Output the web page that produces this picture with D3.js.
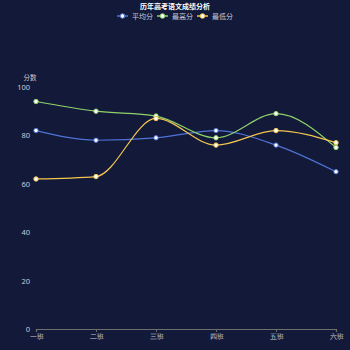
<!DOCTYPE html>
<html><head><meta charset="utf-8">
<script src="https://cdn.jsdelivr.net/npm/d3@7/dist/d3.min.js"></script>
<style>
html,body{margin:0;padding:0;background:#131939;}
svg{display:block;font-family:"Noto Sans CJK SC","Noto Sans",sans-serif;}
</style></head>
<body>
<svg id="chart" width="350" height="350"></svg>
<script>
const classes = ["一班","二班","三班","四班","五班","六班"];
const avgScores = [82, 78, 79, 82, 76, 65];
const highScores = [94, 90, 88, 79, 89, 75];
const lowScores = [62, 63, 87, 76, 82, 77];
const yTicks = [0, 20, 40, 60, 80, 100];
const seriesNames = ["平均分","最高分","最低分"];
const seriesColors = ["#4f73d6","#8fd26b","#f3c64f"];

const svg = d3.select("#chart");
const W = 350, H = 350;
const margin = {left: 36, right: 14, top: 87, bottom: 21};

svg.append("rect").attr("width", W).attr("height", H).attr("fill", "#131939");

const x = d3.scalePoint().domain(classes).range([margin.left, W - margin.right]);
const y = d3.scaleLinear().domain([0, 100]).range([H - margin.bottom, margin.top]);

// title
svg.append("text").attr("x", W / 2).attr("y", 9).attr("text-anchor", "middle")
  .attr("fill", "#ffffff").attr("font-size", 7).attr("font-weight", "bold")
  .text("历年高考语文成绩分析");

// legend
const legendX = [117, 157, 197];
seriesNames.forEach((name, i) => {
  const g = svg.append("g").attr("transform", `translate(${legendX[i]},16)`);
  g.append("line").attr("x1", 0).attr("x2", 11).attr("y1", 0).attr("y2", 0)
    .attr("stroke", seriesColors[i]).attr("stroke-width", 1.5);
  g.append("circle").attr("cx", 5.5).attr("cy", 0).attr("r", 2.3)
    .attr("fill", "#fff").attr("stroke", seriesColors[i]).attr("stroke-width", 1);
  g.append("text").attr("x", 15).attr("y", 2.5).attr("fill", "#c8cbd8")
    .attr("font-size", 7).text(name);
});

// y axis
const yAxis = svg.append("g").attr("transform", `translate(${margin.left},0)`)
  .call(d3.axisLeft(y).tickValues(yTicks).tickSize(0).tickPadding(6));
yAxis.select(".domain").remove();
yAxis.selectAll("text").attr("fill", "#c8cbd8").attr("font-size", 7.5)
  .attr("font-family", "'Noto Sans',sans-serif");

svg.append("text").attr("x", 30).attr("y", 80).attr("text-anchor", "middle")
  .attr("fill", "#c8cbd8").attr("font-size", 6.5).text("分数");

// x axis
const xAxis = svg.append("g").attr("transform", `translate(0,${H - margin.bottom})`)
  .call(d3.axisBottom(x).tickSize(3).tickPadding(2));
xAxis.select(".domain").attr("stroke", "#6e6e6e").attr("stroke-width", 1.2);
xAxis.selectAll("line").attr("stroke", "#6e6e6e");
xAxis.selectAll("text").attr("fill", "#c8cbd8").attr("font-size", 7);

// series
const allSeries = [avgScores, highScores, lowScores];
const line = d3.line().x((d, i) => x(classes[i])).y(d => y(d)).curve(d3.curveMonotoneX);
allSeries.forEach((vals, s) => {
  svg.append("path").datum(vals).attr("d", line).attr("fill", "none")
    .attr("stroke", seriesColors[s]).attr("stroke-width", 1.2);
});
allSeries.forEach((vals, s) => {
  svg.selectAll(null).data(vals).enter().append("circle")
    .attr("cx", (d, i) => x(classes[i])).attr("cy", d => y(d)).attr("r", 2.2)
    .attr("fill", "#fff").attr("stroke", seriesColors[s]).attr("stroke-width", 1);
});
</script>
</body></html>
